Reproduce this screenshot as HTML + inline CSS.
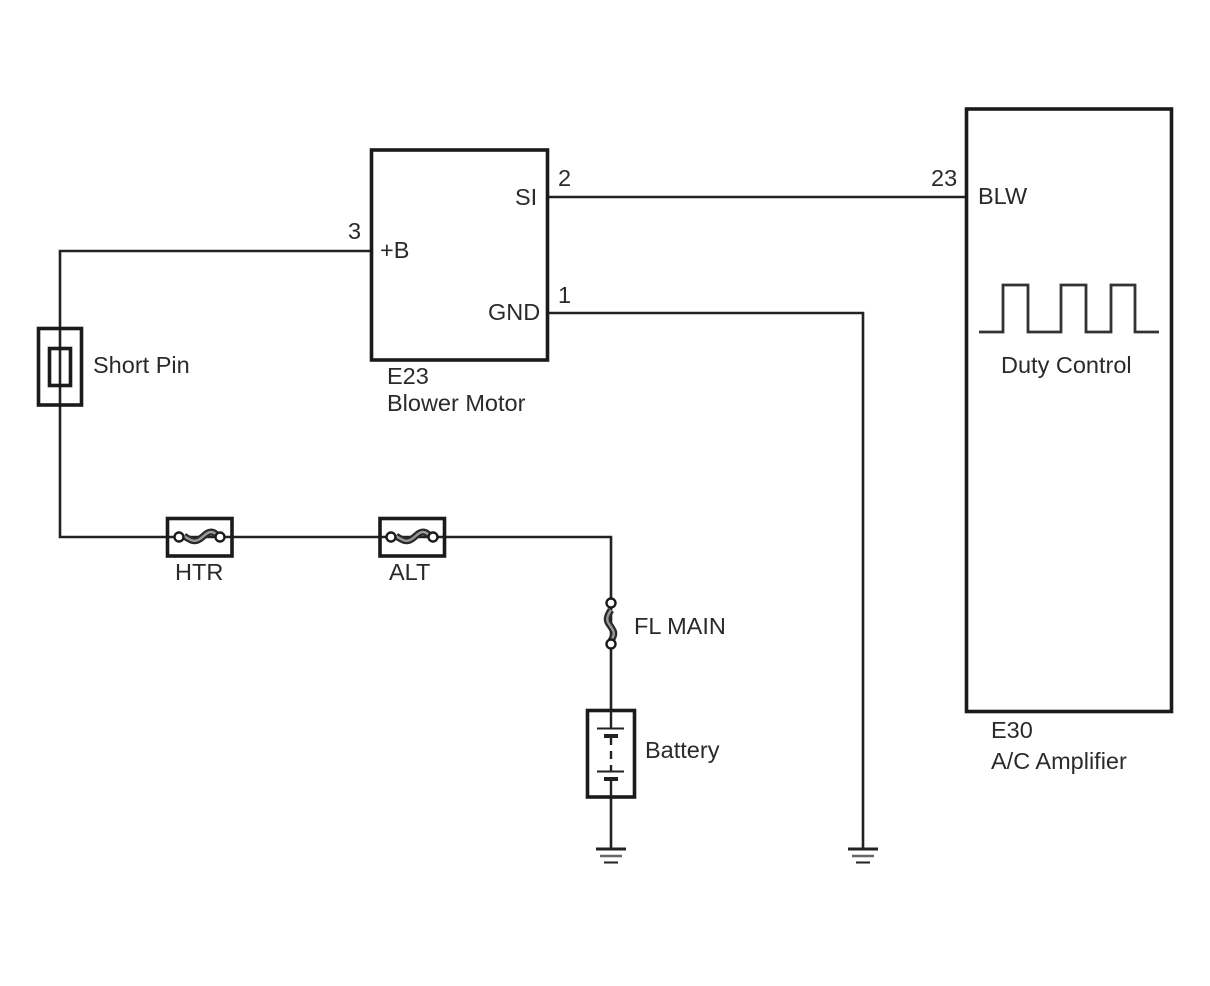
<!DOCTYPE html>
<html><head><meta charset="utf-8"><style>
html,body{margin:0;padding:0;background:#fff;width:1210px;height:986px;overflow:hidden}
svg{display:block}
text{font-family:"Liberation Sans",sans-serif;font-size:23.5px;fill:#2a2a2a}
</style></head><body>
<svg width="1210" height="986" viewBox="0 0 1210 986">
<g fill="none" stroke="#222" stroke-width="2.6" stroke-linejoin="miter">
<path d="M371 251H60V537H611V710M611 797V849"/>
<path d="M548 197H966"/>
<path d="M548 313H863V849"/>
<path d="M979 332H1003V285H1028V332H1061V285H1086V332H1111V285H1135V332H1159" stroke="#333" stroke-width="2.8"/>
</g>
<g fill="none" stroke="#1a1a1a" stroke-width="3.6">
<rect x="371.500" y="150" width="176" height="210"/>
<rect x="966.500" y="109" width="205" height="602.500"/>
<rect x="38.500" y="328.500" width="43" height="76.500"/>
<rect x="49.500" y="348.500" width="21" height="37"/>
<rect x="167.500" y="518.500" width="64.500" height="37.500"/>
<rect x="380" y="518.500" width="64.500" height="37.500"/>
<rect x="587.500" y="710.500" width="47" height="86.500"/>
</g>
<!-- fuses -->
<g fill="none" stroke="#2a2a2a" stroke-width="7">
<path d="M184 536C190 540 194 542 198 540C203 538 206 532 211 532C214 532 216 534 218 536"/>
<path d="M396 536C402 540 406 542 410 540C415 538 418 532 423 532C426 532 428 534 430 536"/>
<path d="M611 610C607 616 606 620 609 624C613 630 615 632 613 637L611 641"/>
</g>
<g fill="none" stroke="#999" stroke-width="2.4">
<path d="M184 536C190 540 194 542 198 540C203 538 206 532 211 532C214 532 216 534 218 536"/>
<path d="M396 536C402 540 406 542 410 540C415 538 418 532 423 532C426 532 428 534 430 536"/>
<path d="M611 610C607 616 606 620 609 624C613 630 615 632 613 637L611 641"/>
</g>
<g fill="#fff" stroke="#1a1a1a" stroke-width="2.4">
<circle cx="179" cy="537" r="4.500"/><circle cx="220" cy="537" r="4.500"/>
<circle cx="391" cy="537" r="4.500"/><circle cx="433" cy="537" r="4.500"/>
<circle cx="611" cy="603" r="4.500"/><circle cx="611" cy="644" r="4.500"/>
</g>
<!-- battery -->
<g stroke="#222" fill="none">
<path d="M611 710V728M611 736V745M611 751V759M611 765V772M611 779V797" stroke-width="2.400"/>
<path d="M597 728.500H624M597 771.500H624" stroke-width="2"/>
<path d="M604 736H618M604 779H618" stroke-width="4"/>
</g>
<!-- grounds -->
<g stroke="#222" fill="none">
<path d="M596 849H626M848 849H878" stroke-width="3"/>
<path d="M600 856H622M852 856H874" stroke-width="2.500" stroke="#666"/>
<path d="M604 862.500H618M856 862.500H870" stroke-width="2"/>
</g>
<text x="348" y="239">3</text>
<text x="380" y="258">+B</text>
<text x="558" y="186">2</text>
<text x="515" y="205">SI</text>
<text x="558" y="303">1</text>
<text x="488" y="320">GND</text>
<text x="931" y="186">23</text>
<text x="978" y="204">BLW</text>
<text x="93" y="373">Short Pin</text>
<text x="387" y="384">E23</text>
<text x="387" y="411">Blower Motor</text>
<text x="1001" y="373">Duty Control</text>
<text x="175" y="580">HTR</text>
<text x="389" y="580">ALT</text>
<text x="634" y="634">FL MAIN</text>
<text x="645" y="758">Battery</text>
<text x="991" y="738">E30</text>
<text x="991" y="769">A/C Amplifier</text>
</svg>
</body></html>
